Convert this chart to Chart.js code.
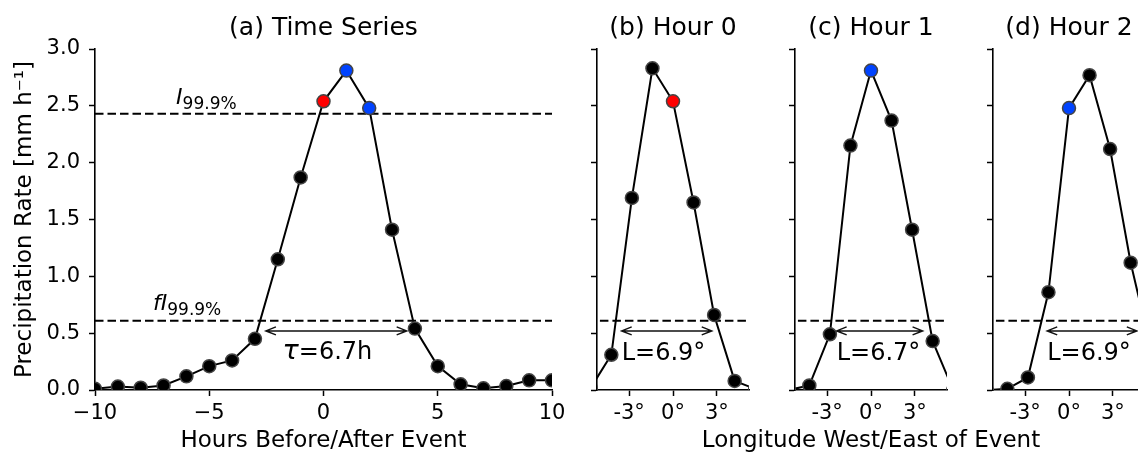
<!DOCTYPE html>
<html lang="en">
<head>
<meta charset="UTF-8">
<title>Precipitation event: time series and longitude sections</title>
<script src="https://cdn.jsdelivr.net/npm/chart.js"></script>
<style>
  html, body { margin: 0; padding: 0; background: #fff; overflow: hidden; }
  #wrap { position: relative; width: 1138px; height: 453px; overflow: hidden; }
  canvas { position: absolute; top: 0; }
</style>
</head>
<body>
<div id="wrap">
  <canvas id="panelA" width="600" height="455" style="left:0px"></canvas>
  <canvas id="panelB" width="220" height="453" style="left:547px"></canvas>
  <canvas id="panelD" width="220" height="453" style="left:943px"></canvas>
  <canvas id="panelC" width="400" height="453" style="left:680px"></canvas>
</div>

<script>
  // (a) time series around the event
  const hours = [-10, -9, -8, -7, -6, -5, -4, -3, -2, -1, 0, 1, 2, 3, 4, 5, 6, 7, 8, 9, 10];
  const eventRate = [0.01, 0.03, 0.02, 0.04, 0.12, 0.21, 0.26, 0.45, 1.15, 1.87, 2.54,
                     2.81, 2.48, 1.41, 0.54, 0.21, 0.05, 0.015, 0.035, 0.085, 0.085];
  const hourTicks = [-10, -5, 0, 5, 10];

  // (b)-(d) zonal cross-sections at hour 0, 1, 2
  const lonOffsets = [-5.625, -4.21875, -2.8125, -1.40625, 0, 1.40625, 2.8125, 4.21875, 5.625];
  const hour0Rate = [0.02, 0.31, 1.69, 2.83, 2.54, 1.65, 0.66, 0.08, 0.01];
  const hour1Rate = [0.0, 0.04, 0.49, 2.15, 2.81, 2.37, 1.41, 0.43, 0.0];
  const hour2Rate = [0.0, 0.01, 0.11, 0.86, 2.48, 2.77, 2.12, 1.12, 0.35];
  const lonTicks = [-3, 0, 3];
  const rateTicks = [0, 0.5, 1, 1.5, 2, 2.5, 3];

  const intensityThreshold = 2.43;   // I 99.9%
  const fractionThreshold = 0.61;    // f I 99.9%
  const durationText = '=6.7h';
  const widthTexts = ['L=6.9°', 'L=6.7°', 'L=6.9°'];

  const FONT = '"DejaVu Sans", sans-serif';
  const RED = '#ff0000';
  const BLUE = '#0043ff';
  Chart.defaults.color = '#000';
  Chart.defaults.font.family = FONT;

  function drawArrow(ctx, x1, x2, y) {
    ctx.strokeStyle = '#111';
    ctx.lineWidth = 1.5;
    ctx.beginPath();
    ctx.moveTo(x1, y); ctx.lineTo(x2, y);
    ctx.moveTo(x1 + 10, y - 4); ctx.lineTo(x1, y); ctx.lineTo(x1 + 10, y + 4);
    ctx.moveTo(x2 - 10, y - 4); ctx.lineTo(x2, y); ctx.lineTo(x2 - 10, y + 4);
    ctx.stroke();
  }

  // text pieces: [{t, font, dy}] drawn one after another
  function drawPieces(ctx, px, py, pieces, align) {
    let total = 0;
    pieces.forEach(p => { ctx.font = p.font; total += ctx.measureText(p.t).width; });
    let x = align === 'center' ? px - total / 2 : px;
    ctx.fillStyle = '#000';
    ctx.textBaseline = 'alphabetic';
    ctx.textAlign = 'left';
    pieces.forEach(p => {
      ctx.font = p.font;
      ctx.fillText(p.t, x, py + (p.dy || 0));
      x += ctx.measureText(p.t).width;
    });
  }

  const annotate = {
    id: 'annotate',
    afterDatasetsDraw(chart, args, opts) {
      const { ctx, scales: { x, y } } = chart;
      ctx.save();
      (opts.arrows || []).forEach(a =>
        drawArrow(ctx, x.getPixelForValue(a.from), x.getPixelForValue(a.to), y.getPixelForValue(a.y)));
      (opts.texts || []).forEach(t =>
        drawPieces(ctx, x.getPixelForValue(t.x), y.getPixelForValue(t.y), t.pieces, t.align));
      // shared x label, wider than the panel itself
      if (opts.sharedLabel) {
        const area = chart.chartArea;
        ctx.font = `23px ${FONT}`;
        ctx.fillStyle = '#000';
        ctx.textAlign = 'center';
        ctx.textBaseline = 'middle';
        ctx.fillText(opts.sharedLabel, (area.left + area.right) / 2, 441.5);
      }
      ctx.restore();
    }
  };

  function seriesDataset(xs, ys, colorAt) {
    return {
      data: xs.map((v, i) => ({ x: v, y: ys[i] })),
      borderColor: '#000',
      borderWidth: 2,
      tension: 0,
      pointRadius: 6.5,
      pointBorderWidth: 1.5,
      pointBorderColor: '#444',
      pointBackgroundColor: xs.map(colorAt),
      clip: 0
    };
  }

  function dashed(x0, x1, yv) {
    return {
      data: [{ x: x0, y: yv }, { x: x1, y: yv }],
      borderColor: '#000',
      borderWidth: 2,
      borderDash: [8.5, 4],
      pointRadius: 0,
      clip: 0
    };
  }

  function makePanel(id, cfg) {
    return new Chart(document.getElementById(id), {
      type: 'line',
      data: { datasets: cfg.datasets },
      options: {
        responsive: false,
        animation: false,
        devicePixelRatio: 1,
        layout: { padding: { left: 0, right: cfg.padRight, top: 0, bottom: 0 } },
        plugins: {
          legend: { display: false },
          tooltip: { enabled: false },
          title: {
            display: true, text: cfg.title, fullSize: false, color: '#000',
            font: { family: FONT, size: 25, weight: 'normal' },
            padding: { top: 13, bottom: 6 }
          },
          annotate: cfg.annotate
        },
        scales: {
          x: {
            type: 'linear', min: cfg.xMin, max: cfg.xMax,
            afterBuildTicks: s => { s.ticks = cfg.xTicks.map(v => ({ value: v })); },
            afterFit: s => { s.height = cfg.xHeight || 63; },
            ticks: { font: { size: 21 }, color: '#000', padding: 5, maxRotation: 0, callback: cfg.xFormat },
            grid: { drawOnChartArea: false, drawTicks: true, tickLength: 6, tickWidth: 1.5, color: '#000' },
            border: { display: true, color: '#000', width: 1.6 },
            title: {
              display: !!cfg.xTitle, text: cfg.xTitle || '', color: '#000',
              font: { size: 23 }, padding: { top: 0, bottom: 0 }
            }
          },
          y: {
            min: 0, max: 3,
            afterBuildTicks: s => { s.ticks = rateTicks.map(v => ({ value: v })); },
            afterFit: s => { s.width = cfg.yWidth; },
            ticks: {
              font: { size: 21 }, color: '#000', padding: 9,
              callback: v => cfg.yLabels ? v.toFixed(1) : ''
            },
            grid: { drawOnChartArea: false, drawTicks: true, tickLength: 6, tickWidth: 1.5, color: '#000' },
            border: { display: true, color: '#000', width: 1.6 },
            title: {
              display: !!cfg.yTitle, text: cfg.yTitle || '', color: '#000',
              font: { size: 23 }, padding: { top: 11, bottom: 0 }
            }
          }
        }
      },
      plugins: [annotate]
    });
  }

  const italic = s => `italic ${s}px ${FONT}`;
  const plain = s => `${s}px ${FONT}`;

  makePanel('panelA', {
    title: '(a) Time Series',
    padRight: 48, yWidth: 95, xHeight: 65,
    xMin: -10, xMax: 10, xTicks: hourTicks,
    xFormat: v => String(v).replace('-', '\u2212'),
    yLabels: true,
    xTitle: 'Hours Before/After Event',
    yTitle: 'Precipitation Rate [mm h\u207B\u00B9]',
    datasets: [
      seriesDataset(hours, eventRate, h => h === 0 ? RED : (h === 1 || h === 2) ? BLUE : '#000'),
      dashed(-10, 10, intensityThreshold),
      dashed(-10, 10, fractionThreshold)
    ],
    annotate: {
      arrows: [{ from: -2.52, to: 3.64, y: 0.52 }],
      texts: [
        { x: -6.45, y: 2.52, pieces: [{ t: 'I', font: italic(22) }, { t: '99.9%', font: plain(17), dy: 5 }] },
        { x: -7.46, y: 0.70, pieces: [{ t: 'fI', font: italic(22) }, { t: '99.9%', font: plain(17), dy: 5 }] },
        { x: 0.17, y: 0.275, align: 'center', pieces: [{ t: '\u03C4', font: italic(27) }, { t: durationText, font: plain(24) }] }
      ]
    }
  });

  const lonPanels = [
    { id: 'panelB', title: '(b) Hour 0', rate: hour0Rate, mark: RED, padRight: 18, yWidth: 50, arrow: [-3.51, 2.65] },
    { id: 'panelC', title: '(c) Hour 1', rate: hour1Rate, mark: BLUE, padRight: 133, yWidth: 115, arrow: [-2.35, 3.53],
      sharedLabel: 'Longitude West/East of Event' },
    { id: 'panelD', title: '(d) Hour 2', rate: hour2Rate, mark: BLUE, padRight: 18, yWidth: 50, arrow: [-1.49, 4.64] }
  ];

  lonPanels.forEach((p, i) => {
    makePanel(p.id, {
      title: p.title,
      padRight: p.padRight, yWidth: p.yWidth,
      xMin: -5.2, xMax: 5.2, xTicks: lonTicks,
      xFormat: v => `${v}°`,
      yLabels: false,
      datasets: [
        seriesDataset(lonOffsets, p.rate, x => x === 0 ? p.mark : '#000'),
        dashed(-5, 5, fractionThreshold)
      ],
      annotate: {
        arrows: [{ from: p.arrow[0], to: p.arrow[1], y: 0.52 }],
        texts: [{ x: p.arrow[0], y: 0.266, pieces: [{ t: widthTexts[i], font: plain(24) }] }],
        sharedLabel: p.sharedLabel
      }
    });
  });
</script>
</body>
</html>
